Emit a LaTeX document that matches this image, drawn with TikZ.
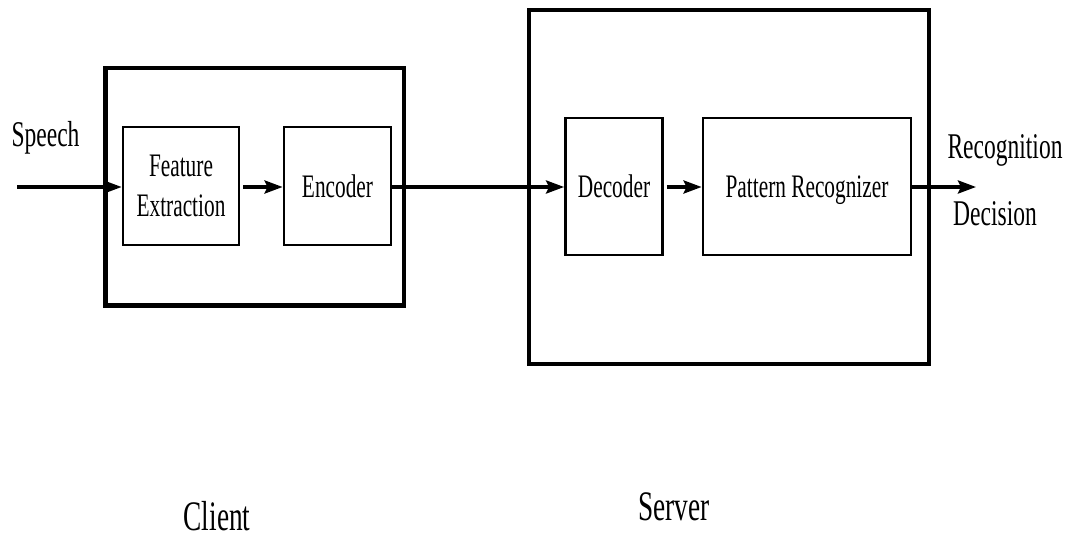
\documentclass[tikz,border=0pt]{standalone}
\usepackage{fontspec}
\setmainfont{Liberation Serif}[FakeStretch=0.65]
\usetikzlibrary{arrows.meta}

\begin{document}
\begin{tikzpicture}[x=1pt,y=-1pt,
  group/.style={draw, line width=4.5pt, inner sep=0pt, outer sep=0pt},
  block/.style={draw, line width=2.8pt, inner sep=0pt, align=center,
    font=\fontsize{32.8}{40}\selectfont},
  lbl/.style={inner sep=0pt, anchor=base, font=\fontsize{36.2}{40}\selectfont},
  biglbl/.style={lbl, font=\fontsize{42}{46}\selectfont},
  flow/.style={line width=3.5pt, -{Stealth[length=18pt,width=13pt,inset=3pt]}},
]
\useasboundingbox (0,0) rectangle (1073,538);

% client and server enclosures
\node[group, minimum width=298.5pt, minimum height=237.5pt] (client) at (254.75,186.75) {};
\node[group, minimum width=400pt, minimum height=354pt] (server) at (729,187) {};

% processing blocks
\node[block, minimum width=116pt, minimum height=118pt] (feat) at (181,186) {Feature\\Extraction};
\node[block, minimum width=107pt, minimum height=118pt] (enc) at (337.5,186) {Encoder};
\node[block, minimum width=97pt, minimum height=137pt] (dec) at (614,186.5) {Decoder};
\node[block, minimum width=208pt, minimum height=137pt, text depth=0pt] (pat) at (807,186.5) {Pattern Recognizer};

% free ends of the input and output arrows
\coordinate (in) at (17,187);
\coordinate (out) at (976,187);

% signal flow
\draw[flow] (in) -- (in -| feat.west);
\draw[flow, shorten <=3pt] (feat.east |- in) -- (enc.west |- in);
\draw[flow] (enc.east |- in) -- (dec.west |- in);
\draw[flow, shorten <=3pt] (dec.east |- in) -- (pat.west |- in);
\draw[flow] (pat.east |- in) -- (out);

% labels
\node[lbl] (speech) at (45.5,146.7) {Speech};
\node[lbl] (recog) at (1005,158.3) {Recognition};
\node[lbl] (decis) at (995,225) {Decision};
\node[biglbl] (clientlbl) at (217,530) {Client};
\node[biglbl] (serverlbl) at (674,520) {Server};
\end{tikzpicture}
\end{document}
